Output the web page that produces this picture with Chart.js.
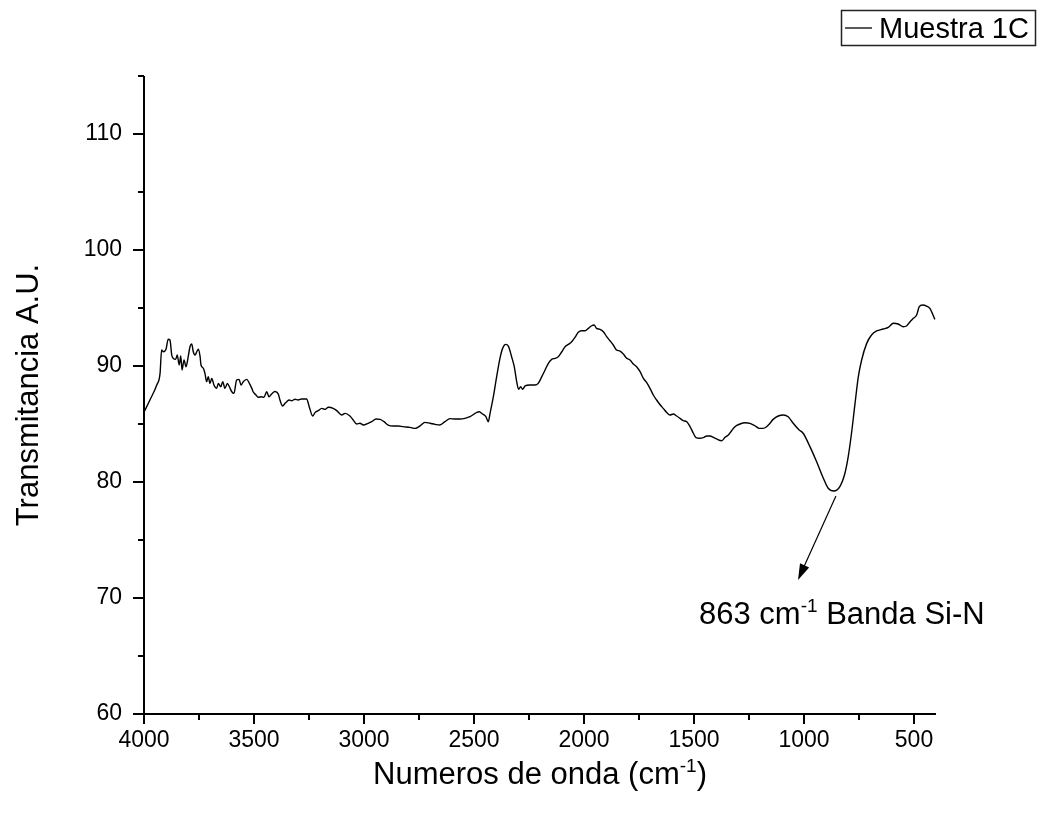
<!DOCTYPE html>
<html>
<head>
<meta charset="utf-8">
<title>Muestra 1C</title>
<script src="https://cdn.jsdelivr.net/npm/chart.js@4.4.1/dist/chart.umd.min.js"></script>
<style>
  html, body { margin: 0; padding: 0; background: #fff; }
  #wrap { width: 1040px; height: 813px; }
</style>
</head>
<body>
<div id="wrap"><canvas id="ftirChart" width="1040" height="813"></canvas></div>
<script>
// FTIR spectrum, sample 1C
var wavenumbers = [
    4000, 3973, 3942, 3927, 3920, 3912, 3900, 3890, 3882, 3874, 3867, 3856, 3849, 3840, 3833, 3827,
    3818, 3809, 3799, 3791, 3783, 3776, 3768, 3760, 3753, 3745, 3741, 3730, 3723, 3715, 3708, 3700,
    3692, 3682, 3670, 3662, 3651, 3642, 3632, 3621, 3612, 3601, 3591, 3579, 3568, 3559, 3549, 3533,
    3521, 3510, 3504, 3491, 3481, 3465, 3455, 3442, 3432, 3420, 3405, 3390, 3382, 3370, 3359, 3351,
    3340, 3329, 3314, 3299, 3283, 3261, 3249, 3233, 3223, 3208, 3192, 3177, 3162, 3140, 3124, 3101,
    3086, 3064, 3049, 3033, 3018, 3003, 2981, 2965, 2945, 2927, 2909, 2890, 2867, 2844, 2822, 2791,
    2768, 2745, 2723, 2700, 2677, 2655, 2632, 2609, 2586, 2564, 2541, 2518, 2495, 2476, 2461, 2446,
    2435, 2427, 2412, 2397, 2382, 2370, 2356, 2344, 2329, 2317, 2306, 2297, 2288, 2279, 2268, 2246,
    2223, 2208, 2192, 2177, 2162, 2147, 2132, 2117, 2101, 2086, 2071, 2056, 2041, 2026, 2011, 1995,
    1980, 1965, 1954, 1943, 1927, 1912, 1897, 1882, 1867, 1852, 1836, 1821, 1806, 1791, 1776, 1761,
    1745, 1730, 1715, 1700, 1685, 1670, 1655, 1640, 1624, 1609, 1594, 1579, 1564, 1549, 1533, 1518,
    1503, 1491, 1473, 1458, 1442, 1427, 1412, 1397, 1374, 1359, 1344, 1329, 1314, 1291, 1268, 1246,
    1223, 1203, 1185, 1162, 1140, 1117, 1094, 1072, 1049, 1022, 1004, 973, 943, 912, 890, 864,
    837, 814, 799, 784, 768, 753, 738, 715, 693, 670, 640, 617, 594, 572, 549, 534,
    518, 503, 488, 476, 461, 443, 428, 405
];
var transmittance = [
    86.03, 87.07, 88.36, 89.37, 91.38, 91.23, 91.44, 92.30, 92.24, 90.95, 90.66, 90.57, 90.95, 90.09, 90.86, 89.66,
    90.52, 89.94, 90.80, 91.66, 91.90, 91.23, 90.95, 91.23, 91.44, 90.80, 90.09, 89.80, 89.37, 88.65, 89.08, 88.50,
    88.93, 88.36, 88.07, 88.50, 88.21, 88.65, 88.07, 88.50, 88.21, 87.78, 87.64, 88.79, 88.85, 88.36, 88.65, 88.85,
    88.50, 88.07, 87.78, 87.50, 87.30, 87.35, 87.30, 87.78, 87.35, 87.59, 87.80, 87.60, 87.07, 86.55, 86.78, 86.92,
    87.07, 87.00, 87.13, 87.07, 87.16, 87.16, 86.49, 85.69, 85.98, 86.15, 86.35, 86.26, 86.44, 86.35, 86.15, 85.78,
    85.92, 85.69, 85.34, 85.00, 85.06, 84.91, 85.06, 85.20, 85.43, 85.40, 85.20, 84.91, 84.83, 84.83, 84.77, 84.71,
    84.62, 84.83, 85.14, 85.06, 84.97, 84.91, 85.20, 85.46, 85.43, 85.43, 85.49, 85.63, 85.92, 86.06, 85.86, 85.63,
    85.20, 85.92, 87.35, 89.08, 90.66, 91.52, 91.86, 91.72, 90.80, 89.94, 88.65, 87.99, 88.21, 87.99, 88.28, 88.36,
    88.36, 88.50, 89.08, 89.66, 90.23, 90.57, 90.66, 90.80, 91.23, 91.66, 91.86, 92.09, 92.47, 92.90, 93.04, 93.04,
    93.24, 93.47, 93.53, 93.24, 93.16, 92.96, 92.53, 92.18, 91.81, 91.38, 91.29, 91.03, 90.66, 90.52, 90.17, 89.94,
    89.51, 88.93, 88.56, 88.07, 87.50, 87.07, 86.68, 86.35, 86.00, 85.78, 85.86, 85.69, 85.49, 85.29, 85.20, 84.77,
    84.20, 83.82, 83.77, 83.82, 83.97, 83.97, 83.85, 83.71, 83.56, 83.85, 84.05, 84.42, 84.77, 85.00, 85.11, 85.06,
    84.85, 84.62, 84.62, 84.91, 85.40, 85.69, 85.78, 85.63, 85.06, 84.48, 84.20, 83.05, 81.76, 80.32, 79.46, 79.22,
    79.60, 80.75, 82.18, 84.20, 86.78, 89.08, 90.52, 91.95, 92.67, 93.02, 93.19, 93.33, 93.68, 93.62, 93.39, 93.45,
    93.82, 94.11, 94.40, 95.11, 95.26, 95.17, 94.97, 94.02
];

// tick positions (majors get labels)
var xTickValues = [4000, 3750, 3500, 3250, 3000, 2750, 2500, 2250, 2000, 1750, 1500, 1250, 1000, 750, 500];
var yTickValues = [60, 65, 70, 75, 80, 85, 90, 95, 100, 105, 110, 115];

var seriesLabel = 'Muestra 1C';
var bandWavenumber = 864;
var bandValue = 79.22;

var FONT = "'Liberation Sans', Arial, sans-serif";

var points = wavenumbers.map(function (w, i) {
    return { x: w, y: transmittance[i] };
});

// draws a string made of [text, superscript?] pieces, starting at x on baseline y
function drawRich(ctx, parts, x, y, size) {
    var supSize = Math.round(size * 0.6);
    parts.forEach(function (p) {
        ctx.font = (p[1] ? supSize : size) + 'px ' + FONT;
        ctx.fillText(p[0], x, p[1] ? y - size * 0.4 : y);
        x += ctx.measureText(p[0]).width;
    });
}

function richWidth(ctx, parts, size) {
    var supSize = Math.round(size * 0.6);
    var w = 0;
    parts.forEach(function (p) {
        ctx.font = (p[1] ? supSize : size) + 'px ' + FONT;
        w += ctx.measureText(p[0]).width;
    });
    return w;
}

// Axis lines, major/minor ticks, titles, legend box and the band annotation
var decorations = {
    id: 'decorations',
    afterDraw: function (chart) {
        var ctx = chart.ctx;
        var area = chart.chartArea;
        var xs = chart.scales.x, ys = chart.scales.y;
        ctx.save();
        ctx.strokeStyle = '#000';
        ctx.fillStyle = '#000';
        ctx.lineWidth = 2;

        ctx.beginPath();
        ctx.moveTo(area.left, area.top);
        ctx.lineTo(area.left, area.bottom);
        ctx.lineTo(area.right, area.bottom);
        xTickValues.forEach(function (v) {
            var px = Math.round(xs.getPixelForValue(v));
            ctx.moveTo(px, area.bottom);
            ctx.lineTo(px, area.bottom + (v % 500 === 0 ? 10 : 6));
        });
        yTickValues.forEach(function (v) {
            var py = Math.round(ys.getPixelForValue(v));
            ctx.moveTo(area.left, py);
            ctx.lineTo(area.left - (v % 10 === 0 ? 11 : 6), py);
        });
        ctx.stroke();

        // x title
        ctx.textBaseline = 'alphabetic';
        ctx.textAlign = 'left';
        var xt = [['Numeros de onda (cm', false], ['-1', true], [')', false]];
        var cx = (area.left + area.right) / 2;
        drawRich(ctx, xt, cx - richWidth(ctx, xt, 31) / 2, 784, 31);

        // y title
        ctx.save();
        ctx.translate(29, (area.top + area.bottom) / 2);
        ctx.rotate(-Math.PI / 2);
        ctx.font = '31px ' + FONT;
        ctx.textAlign = 'center';
        ctx.textBaseline = 'middle';
        ctx.fillText('Transmitancia A.U.', 0, 0);
        ctx.restore();

        // legend
        ctx.lineWidth = 1.5;
        ctx.strokeStyle = '#222';
        ctx.strokeRect(841.5, 10.5, 194, 35);
        ctx.strokeStyle = '#000';
        ctx.lineWidth = 1.3;
        ctx.beginPath();
        ctx.moveTo(845, 28);
        ctx.lineTo(872, 28);
        ctx.stroke();
        ctx.font = '29px ' + FONT;
        ctx.textAlign = 'left';
        ctx.fillText(seriesLabel, 879, 38);

        // arrow from the Si-N band minimum
        var sx = xs.getPixelForValue(bandWavenumber) + 2;
        var sy = ys.getPixelForValue(bandValue) + 5;
        var ex = 798, ey = 580;
        var ang = Math.atan2(ey - sy, ex - sx);
        ctx.lineWidth = 1.2;
        ctx.beginPath();
        ctx.moveTo(sx, sy);
        ctx.lineTo(ex - 12 * Math.cos(ang), ey - 12 * Math.sin(ang));
        ctx.stroke();
        ctx.beginPath();
        ctx.moveTo(ex, ey);
        ctx.lineTo(ex - 16 * Math.cos(ang) + 5 * Math.sin(ang), ey - 16 * Math.sin(ang) - 5 * Math.cos(ang));
        ctx.lineTo(ex - 16 * Math.cos(ang) - 5 * Math.sin(ang), ey - 16 * Math.sin(ang) + 5 * Math.cos(ang));
        ctx.closePath();
        ctx.fill();

        drawRich(ctx, [['863 cm', false], ['-1', true], [' Banda Si-N', false]], 699, 624, 31);
        ctx.restore();
    }
};

var ctx = document.getElementById('ftirChart').getContext('2d');
new Chart(ctx, {
    type: 'line',
    data: {
        datasets: [{
            label: seriesLabel,
            data: points,
            borderColor: '#000',
            borderWidth: 1.4,
            pointRadius: 0,
            fill: false,
            cubicInterpolationMode: 'monotone'
        }]
    },
    options: {
        responsive: false,
        animation: false,
        layout: {
            padding: { left: 0, right: 104, top: 76, bottom: 0 }
        },
        plugins: {
            legend: { display: false },
            tooltip: { enabled: false }
        },
        scales: {
            x: {
                type: 'linear',
                reverse: true,
                min: 400,
                max: 4000,
                grid: { display: false, drawTicks: false },
                border: { display: false },
                afterBuildTicks: function (scale) {
                    scale.ticks = xTickValues.map(function (v) { return { value: v }; });
                },
                afterFit: function (scale) { scale.height = 99; },
                ticks: {
                    autoSkip: false,
                    maxRotation: 0,
                    padding: 13,
                    color: '#000',
                    font: { family: FONT, size: 23 },
                    callback: function (v) { return v % 500 === 0 ? String(v) : ''; }
                }
            },
            y: {
                min: 60,
                max: 115,
                grid: { display: false, drawTicks: false },
                border: { display: false },
                afterBuildTicks: function (scale) {
                    scale.ticks = yTickValues.map(function (v) { return { value: v }; });
                },
                afterFit: function (scale) { scale.width = 144; },
                ticks: {
                    autoSkip: false,
                    padding: 22,
                    color: '#000',
                    font: { family: FONT, size: 23 },
                    callback: function (v) { return v % 10 === 0 ? String(v) : ''; }
                }
            }
        }
    },
    plugins: [decorations]
});
</script>
</body>
</html>
